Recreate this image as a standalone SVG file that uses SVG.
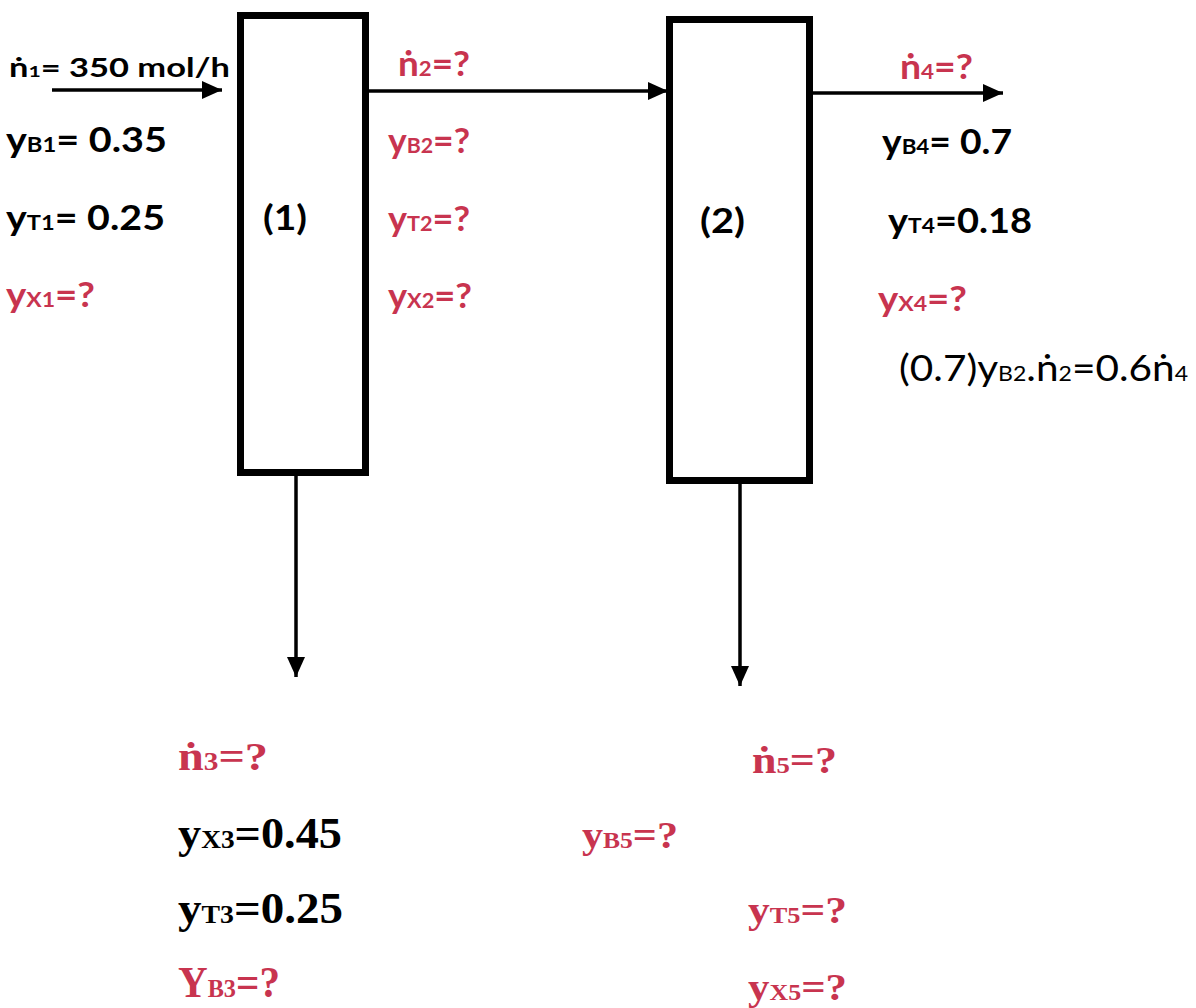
<svg xmlns="http://www.w3.org/2000/svg" width="1196" height="1008" viewBox="0 0 1196 1008">
<defs>
<marker id="ah" viewBox="0 0 20 18" refX="20" refY="9" markerWidth="20" markerHeight="18" markerUnits="userSpaceOnUse" orient="auto">
<polygon points="0,0 20,9 0,18" fill="#000"/>
</marker>
<style>
.box{fill:#fff;stroke:#000;stroke-width:7}
.conn{stroke:#000;stroke-width:3.5;fill:none;marker-end:url(#ah)}
.s{font-family:Lato,"Open Sans","Liberation Sans",sans-serif;font-weight:bold;font-size:35px}
.r{font-family:Lato,"Open Sans","Liberation Sans",sans-serif;font-weight:normal;font-size:37px}
.f{font-family:"Liberation Serif","DejaVu Serif",serif;font-weight:bold;font-size:44px}
.red{fill:#c8344f}
.blk{fill:#000}
.sub{font-size:21px}
.fsub{font-size:26px}
</style>
</defs>
<rect width="1196" height="1008" fill="#fff"/>
<g id="connectors">
<line class="conn" x1="52" y1="90" x2="222" y2="90"/>
<line class="conn" x1="368" y1="91" x2="668" y2="91"/>
<line class="conn" x1="813" y1="93" x2="1003" y2="93"/>
<line class="conn" x1="296" y1="476" x2="296" y2="677"/>
<line class="conn" x1="740" y1="484" x2="740" y2="686"/>
</g>
<g id="unit1">
<rect class="box" x="240.5" y="15.5" width="125" height="457"/>
<text class="s blk" x="263" y="230" textLength="44" lengthAdjust="spacingAndGlyphs">(1)</text>
</g>
<g id="unit2">
<rect class="box" x="669.5" y="19.5" width="140" height="461"/>
<text class="s blk" x="700" y="233" textLength="45" lengthAdjust="spacingAndGlyphs">(2)</text>
</g>
<g id="stream1">
<text class="s blk" x="9" y="77" style="font-size:26px" textLength="221" lengthAdjust="spacingAndGlyphs">ṅ<tspan style="font-size:16px">1</tspan>= 350 mol/h</text>
<text class="s blk" x="6" y="152" textLength="161" lengthAdjust="spacingAndGlyphs">y<tspan class="sub">B1</tspan>= 0.35</text>
<text class="s blk" x="6" y="230" textLength="159" lengthAdjust="spacingAndGlyphs">y<tspan class="sub">T1</tspan>= 0.25</text>
<text class="s red" x="6" y="307" textLength="89" lengthAdjust="spacingAndGlyphs">y<tspan class="sub">X1</tspan>=?</text>
</g>
<g id="stream2">
<text class="s red" x="398" y="76" textLength="72" lengthAdjust="spacingAndGlyphs">ṅ<tspan class="sub">2</tspan>=?</text>
<text class="s red" x="388" y="153" textLength="82" lengthAdjust="spacingAndGlyphs">y<tspan class="sub">B2</tspan>=?</text>
<text class="s red" x="388" y="231" textLength="82" lengthAdjust="spacingAndGlyphs">y<tspan class="sub">T2</tspan>=?</text>
<text class="s red" x="388" y="308" textLength="84" lengthAdjust="spacingAndGlyphs">y<tspan class="sub">X2</tspan>=?</text>
</g>
<g id="stream4">
<text class="s red" x="900" y="79" textLength="73" lengthAdjust="spacingAndGlyphs">ṅ<tspan class="sub">4</tspan>=?</text>
<text class="s blk" x="882" y="154" textLength="130" lengthAdjust="spacingAndGlyphs">y<tspan class="sub">B4</tspan>= 0.7</text>
<text class="s blk" x="888" y="233" textLength="144" lengthAdjust="spacingAndGlyphs">y<tspan class="sub">T4</tspan>=0.18</text>
<text class="s red" x="878" y="311" textLength="89" lengthAdjust="spacingAndGlyphs">y<tspan class="sub">X4</tspan>=?</text>
<text class="r blk" x="899" y="381" textLength="289" lengthAdjust="spacingAndGlyphs">(0.7)y<tspan class="sub">B2</tspan>.ṅ<tspan class="sub">2</tspan>=0.6ṅ<tspan class="sub">4</tspan></text>
</g>
<g id="stream3">
<text class="f red" x="178" y="770" style="font-size:41px" textLength="90" lengthAdjust="spacingAndGlyphs">ṅ<tspan class="fsub">3</tspan>=?</text>
<text class="f blk" x="178" y="848" textLength="164" lengthAdjust="spacingAndGlyphs">y<tspan class="fsub">X3</tspan>=0.45</text>
<text class="f blk" x="178" y="923" textLength="165" lengthAdjust="spacingAndGlyphs">y<tspan class="fsub">T3</tspan>=0.25</text>
<text class="f red" x="178" y="997" textLength="102" lengthAdjust="spacingAndGlyphs">Y<tspan class="fsub">B3</tspan>=?</text>
</g>
<g id="stream5">
<text class="f red" x="752" y="773" style="font-size:38px" textLength="85" lengthAdjust="spacingAndGlyphs">ṅ<tspan style="font-size:23px">5</tspan>=?</text>
<text class="f red" x="582" y="848" style="font-size:38px" textLength="96" lengthAdjust="spacingAndGlyphs">y<tspan style="font-size:23px">B5</tspan>=?</text>
<text class="f red" x="748" y="923" style="font-size:38px" textLength="99" lengthAdjust="spacingAndGlyphs">y<tspan style="font-size:23px">T5</tspan>=?</text>
<text class="f red" x="748" y="1000" style="font-size:38px" textLength="99" lengthAdjust="spacingAndGlyphs">y<tspan style="font-size:23px">X5</tspan>=?</text>
</g>
</svg>
